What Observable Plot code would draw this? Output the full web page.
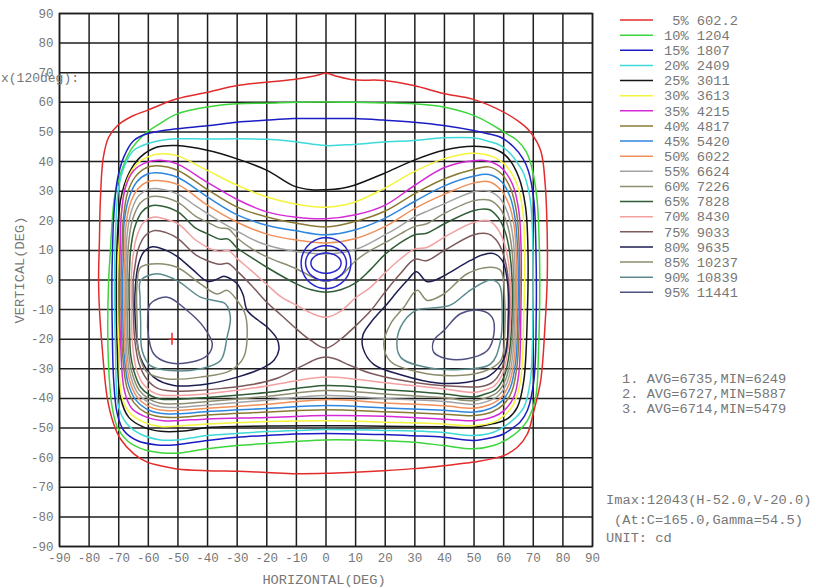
<!DOCTYPE html>
<html><head><meta charset="utf-8">
<script src="https://cdn.jsdelivr.net/npm/d3@7"></script>
<script src="https://cdn.jsdelivr.net/npm/@observablehq/plot@0.6"></script>
<style>body{margin:0;background:#fff;overflow:hidden}</style>
</head><body><div id="chart"></div>
<script>
// ---- data (degrees: [horizontal, vertical]) ----
const ticks = [-90,-80,-70,-60,-50,-40,-30,-20,-10,0,10,20,30,40,50,60,70,80,90];
const levels = [5,10,15,20,25,30,35,40,45,50,55,60,65,70,75,80,85,90,95];
const levelValues = ["602.2","1204","1807","2409","3011","3613","4215","4817","5420","6022","6624","7226","7828","8430","9033","9635","10237","10839","11441"];

const c05 = [[-76.8,0],[-76.5,14],[-76.2,27],[-75.2,41.4],[-73.4,48.2],[-70.4,52.2],[-65.5,55.3],[-60.4,57.3],[-50.3,61.2],[-40.1,63.4],[-30,65.7],[-20,66.8],[-11,67.7],[-4,68.9],[0,69.8],[3,69],[9.3,67.6],[19.4,67.4],[29.6,65.7],[39.7,63],[49.8,61],[60,56.7],[65.5,53.2],[69,50],[72.5,43.7],[74,32.5],[74.7,15.7],[74.7,0],[74,-14.7],[72.5,-34],[70,-45],[68,-52],[64.6,-56.5],[60,-59.3],[49.8,-61.5],[39.7,-62.7],[29.6,-63.7],[19.4,-64.4],[8,-65],[0,-65.3],[-10,-65.4],[-20,-65],[-30,-64.6],[-40.1,-64.4],[-50.3,-63.8],[-57,-62.5],[-60.4,-61.5],[-64.9,-58.7],[-69.4,-53.7],[-71.7,-48.6],[-73.9,-39.6],[-75.6,-22.7],[-76.5,-10]];
const c10 = [[-73.4,0],[-72.8,10],[-72.2,20],[-71.4,28],[-69.4,35.9],[-66,43.8],[-63,47.5],[-60.4,50],[-55,53.5],[-50.3,56.1],[-40.1,58.4],[-30,59.5],[-20,59.7],[-10,60],[0,60.1],[9.3,60],[19.4,59.8],[29.6,59.5],[39.7,58.4],[49.8,55.6],[56,52.5],[60,50],[64.6,47.1],[67.5,43.5],[69.5,38],[71.3,27],[71.9,15.6],[72.2,0],[71.8,-22.7],[70.8,-39.6],[68,-47.5],[65,-51],[62.3,-53.1],[56.6,-55.9],[49.8,-57],[39.7,-55.9],[29.6,-54.8],[19.4,-54.3],[0,-54],[-10,-54.5],[-20,-55.2],[-30,-55.9],[-40.1,-57],[-50.3,-58.5],[-55,-58.4],[-60.4,-57.6],[-64.5,-56],[-67.2,-54.2],[-70.5,-49.7],[-72.2,-43],[-73.2,-33],[-73.7,-18]];
const c15 = [[-72.3,0],[-72.1,10],[-71.7,21.2],[-70.5,33.6],[-68.3,41.5],[-64.9,47.1],[-60.4,49.4],[-50.3,51.1],[-40.1,52.1],[-30,53.3],[-20,54],[-11,54.5],[0,54.5],[9.3,54.5],[19.4,54],[29.6,53.3],[39.7,52.2],[49.8,50.5],[55,49.3],[59,48.2],[63.4,44.9],[66.5,41],[68.3,37],[70.2,26.9],[70.9,10],[71,-11.3],[70.2,-34],[68,-44.1],[65.5,-48],[63.4,-49.7],[60,-52],[56.6,-53.1],[49.8,-54.2],[39.7,-53.1],[29.6,-52.6],[19.4,-52.2],[0,-51.8],[-10.9,-52],[-20,-52.5],[-30,-53.1],[-40.1,-54.2],[-50.3,-55.6],[-57,-55.7],[-63.8,-54.2],[-68.3,-50.8],[-70.5,-45.2],[-71.7,-34],[-72.2,-15]];
const c20 = [[-71.4,0],[-71.1,15.6],[-70,31.4],[-67.7,39.3],[-64.9,43.8],[-60.4,46],[-55,47.3],[-50.3,47.7],[-40,47.6],[-30,47.7],[-20,47.5],[-11,46.8],[0,45.4],[9.3,45.8],[19.4,46.6],[29.6,47.1],[39.7,48],[49.8,48],[55,46.8],[59,45.4],[62.3,42.6],[65,39],[66.8,35.9],[69,26.9],[69.9,10],[69.9,-11.4],[69,-34],[66.8,-43],[62.3,-48],[56.6,-51.4],[49.8,-52.5],[39.7,-51.5],[29.6,-51],[19.4,-50.8],[0,-50.5],[-10,-50.8],[-20,-51.2],[-30,-51.8],[-40.1,-52.5],[-50.3,-54],[-55.9,-54],[-62.7,-52],[-67.2,-48.6],[-70,-43],[-71.1,-22.7]];
const c25 = [[-70.8,0],[-70.5,13.3],[-69.4,26.9],[-66.6,35.9],[-62.7,41.5],[-57,44.9],[-50.3,45.4],[-40.1,43.8],[-30,40.9],[-19.9,37],[-11,31.8],[-5,30.5],[0,30.5],[5,30.9],[9.3,31.9],[19.4,35.9],[29.6,40.4],[39.7,43.8],[49.8,45.2],[56.7,44.3],[61.2,41.5],[65.1,34.7],[67.4,24.6],[68.2,10],[68,-11.4],[66.8,-34],[64.6,-43],[61.2,-46.9],[56.6,-48.5],[49.8,-49.7],[39.7,-49.6],[20,-49.4],[0,-49.2],[-19.9,-49.3],[-40.1,-49.8],[-48,-51],[-55.9,-51.1],[-61.6,-49.7],[-66.6,-46.4],[-69.4,-39.6],[-70.5,-22.7]];
const c30 = [[-70.3,0],[-70,10],[-68.9,24.6],[-67.2,33.6],[-63.8,39.3],[-60.4,41.5],[-55.9,42.6],[-50.3,42],[-40.1,37],[-30,32],[-20,28],[-10,25.6],[0,24.6],[9.3,26.2],[19.4,30.8],[29.6,36.5],[39.7,40.9],[49.8,42.8],[56.7,41.5],[60.1,39.3],[64,33.6],[66.3,24.6],[67.1,10],[66.8,-11.4],[65.7,-34],[63.4,-41.8],[60.1,-45.8],[56.7,-48],[49.8,-49.2],[39.7,-48.6],[19.4,-48],[0,-47.5],[-19.9,-47.8],[-40.1,-48.6],[-55.9,-49.5],[-61.6,-48],[-66,-45.2],[-68.9,-39.6],[-70,-22.7]];
const c35 = [[-69.7,0],[-69.5,10],[-69.2,21.2],[-67.7,31.4],[-64.9,37],[-60.4,39.8],[-55.9,40.4],[-50.3,39.2],[-40.1,33],[-30,27.2],[-20,23],[-10,21.2],[0,20.7],[10,22],[20,25.3],[30,32],[40,38],[49.9,40.3],[54.5,40.2],[59,38.1],[62.9,32.5],[65.1,23.5],[65.9,10],[65.8,-11.4],[65.1,-31.7],[63.4,-39.6],[60.1,-44.1],[56.7,-46.1],[49.8,-47.5],[39.7,-47],[19.4,-46],[0,-45.8],[-19.9,-46.4],[-40.1,-46.9],[-50,-47.5],[-55,-47.5],[-60.4,-46.4],[-65.5,-43.5],[-68.1,-37.3],[-69.4,-20]];
const c40 = [[-69.2,0],[-68.9,10],[-68.5,20],[-67,29.5],[-64.3,35],[-60.5,38],[-57,38.6],[-50,37],[-40,30.5],[-30,24.6],[-20,21.3],[-10,19.2],[0,17.9],[10,19.8],[20,23.3],[30,29.2],[40,34.2],[50,37.4],[55,38.2],[59.3,35.8],[62.5,30.5],[64.4,22.5],[65.3,10],[65.3,-12],[64.5,-29],[62.8,-37.5],[60,-42],[56,-44.6],[50,-45.8],[40,-45.3],[20,-44.5],[0,-43.8],[-20,-44.6],[-40,-45.6],[-50,-46.4],[-56,-46.2],[-61,-44.7],[-64.8,-41.5],[-67.3,-36],[-68.7,-25],[-69.1,-12]];
const c45 = [[-68.7,0],[-68.4,9],[-68.2,19],[-66.6,27.5],[-64,33],[-60.5,35.7],[-57,36.2],[-50,34.6],[-40,28],[-30,22],[-20,18.5],[-10,16.6],[0,15.3],[10,17],[20,20.9],[30,26.6],[40,31.8],[50,35.1],[55,35.6],[59.3,33.2],[62.2,28],[63.9,20.5],[64.8,8],[64.8,-12],[64,-28],[62.2,-36.5],[59.3,-41],[55.5,-43.4],[50,-44.6],[40,-44],[20,-43.2],[0,-42.4],[-20,-43.4],[-40,-44.4],[-50,-45.2],[-56,-45],[-60.7,-43.5],[-64.4,-40.3],[-66.8,-35],[-68.2,-25],[-68.6,-12]];
const c50 = [[-68.2,0],[-67.9,8],[-67.7,17],[-66.2,25.5],[-63.5,30.8],[-60.3,33.2],[-57,33.6],[-50,32.2],[-40,25.2],[-30,19.5],[-20,15.5],[-10,13.5],[0,12.5],[10,14],[20,18.1],[30,24.2],[40,29],[50,32.8],[55,33.2],[59,30.5],[61.8,25.5],[63.5,18.5],[64.3,7],[64.3,-12],[63.5,-27],[61.7,-35.5],[58.8,-40],[55,-42.2],[50,-43.3],[40,-42.5],[20,-41.5],[0,-40.4],[-20,-42],[-40,-43.3],[-50,-44.1],[-56,-43.9],[-60.4,-42.4],[-64,-39.2],[-66.3,-34],[-67.7,-25],[-68.1,-12]];
const c55 = [[-67.7,0],[-67.5,7],[-67.2,15],[-65.8,23],[-63.2,28.5],[-60,30.6],[-56.5,30.8],[-50,29],[-44,25],[-40,22.4],[-35,19.3],[-30,16.5],[-25,13.8],[-20,11.8],[-10,9.6],[0,8.8],[10,10.3],[20,15.3],[25,18.2],[30,21.4],[35,23.6],[40,25.8],[50,29.8],[55,30],[58.8,27.5],[61.4,22.5],[63,15.5],[63.8,5],[63.8,-12],[63,-26],[61.2,-34.5],[58.3,-39],[54.5,-41],[50,-42],[40,-41],[20,-40],[0,-39],[-20,-40.6],[-40,-42.2],[-50,-43],[-56,-42.8],[-60,-41.3],[-63.6,-38.2],[-65.8,-33],[-67.2,-25],[-67.6,-12]];
const c60 = [[-67.2,0],[-67,6],[-66.6,13],[-65.3,20.5],[-62.7,26],[-59.7,28],[-56.5,28.2],[-50,26.2],[-44,21.5],[-40,19.5],[-36,17.6],[-33,17.3],[-30,14.2],[-25,10.5],[-20,7.8],[-10,3.8],[-5,1.2],[0,-0.5],[5,1.5],[10,6.5],[15,10],[20,12.6],[25,15.5],[30,18.1],[34,19],[40,22.5],[50,26.8],[55,27],[58.5,24.5],[61,19.5],[62.5,12.5],[63.3,3],[63.3,-12],[62.5,-25],[60.7,-33.5],[57.8,-38],[54,-39.8],[50,-40.8],[40,-39.8],[20,-38.5],[0,-37.3],[-20,-39.3],[-40,-41],[-50,-41.8],[-56,-41.6],[-59.7,-40.2],[-63.1,-37.2],[-65.3,-32],[-66.6,-25],[-67.1,-12]];
const c65 = [[-66.5,0],[-66.3,5],[-66,10],[-64.7,17.5],[-62.2,23],[-59.3,25],[-56,25.1],[-50,23],[-44,17.5],[-40,15.6],[-36,13.8],[-33,13.8],[-30,10.8],[-25,7.5],[-20,4.3],[-10,-1.3],[-5,-3.3],[0,-4.1],[5,-3.3],[10,-1],[15,3.5],[20,8.7],[25,12.5],[30,15.3],[34,15.8],[40,19],[50,23.5],[55,23.8],[58.2,21],[60.6,16],[62,9.5],[62.8,1],[62.8,-12],[62,-24],[60.2,-32.5],[57.3,-37],[53.5,-38.6],[50,-39.5],[40,-38.5],[20,-37],[0,-35.6],[-20,-38],[-40,-39.7],[-50,-40.3],[-56,-40.2],[-59.3,-39],[-62.6,-36.2],[-64.8,-31],[-66,-25],[-66.4,-12]];
const c70 = [[-65.8,0],[-65.6,3.5],[-65.3,7],[-64.1,14],[-61.6,19.5],[-58.5,21.2],[-55,20.8],[-50,19],[-44,13.5],[-40,11],[-36,9.6],[-33,10],[-30,7.2],[-25,3],[-20,-1.5],[-15,-5.8],[-10,-8.5],[-5,-11.2],[0,-12.6],[5,-10.5],[10,-6],[15,-2.5],[20,2.5],[25,7],[30,10.5],[34,11],[40,14.5],[50,19.5],[55,20],[57.8,17.5],[60.2,12.5],[61.6,6],[62.3,-2],[62.3,-13],[61.5,-23],[59.7,-31.5],[56.8,-35.8],[53,-37.3],[50,-38],[40,-36.8],[30,-35.7],[20,-34.7],[10,-33.5],[0,-32.8],[-10,-34],[-20,-35.8],[-30,-37.2],[-40,-38.4],[-50,-39],[-56,-38.8],[-59,-37.6],[-62,-34.8],[-64.2,-29.5],[-65.3,-22],[-65.7,-10]];
const c75 = [[-65.1,0],[-64.9,2],[-64.6,4],[-63.4,10.5],[-61,15],[-57.8,16.7],[-54,16],[-50,14],[-44,8.5],[-40,6.5],[-36,5.3],[-33,5.6],[-30,3],[-25,-2],[-20,-7.5],[-15,-12],[-10,-16.5],[-5,-20.5],[0,-23],[5,-20],[10,-15.5],[15,-10.5],[20,-4],[25,2],[30,7],[34,6.5],[40,10],[50,15.3],[55,15.5],[57.5,13.5],[59.8,9],[61.2,3],[61.9,-5],[61.8,-14],[61,-22],[59.2,-30.5],[56.3,-34.5],[52.5,-36],[45,-36],[35,-35.3],[25,-33.8],[15,-31.5],[8,-28.8],[3,-26.6],[0,-26],[-3,-26.6],[-8,-29],[-16,-33],[-25,-35.3],[-35,-36.6],[-45,-37.4],[-52,-37.5],[-57,-36.5],[-60.5,-33.5],[-63.2,-28],[-64.6,-20],[-65.1,-8]];
const c80L = [[-64.4,-2.4],[-63.4,5],[-61.6,9.4],[-58.5,11.2],[-54,10],[-50.3,8],[-45,3.5],[-40,-0.5],[-37,0.2],[-34.5,1.3],[-32,0.3],[-30,-1.3],[-28,-5],[-26.6,-10.3],[-23,-13.5],[-19.9,-15.9],[-16.5,-20],[-15.9,-23.5],[-17.5,-27],[-21,-29.5],[-30,-32.8],[-40.1,-35.1],[-51.4,-35.6],[-58.2,-32.8],[-62.7,-26.1],[-64.4,-13.7]];
const c80R = [[20.7,-8],[24,-4],[27.4,-0.2],[30.5,2.8],[34,-0.5],[37,0],[40,1.5],[48.8,6.6],[53,8.5],[56.7,8.9],[59.5,6.6],[61.2,0],[61.5,-13.7],[60.3,-26.1],[55,-32.5],[47.7,-34.5],[37.6,-34.8],[25.2,-32],[16.1,-28.5],[12.5,-23],[12.5,-18.5],[15,-14.5]];
const c85L = [[-63.8,-1.3],[-62.6,4.3],[-57,5.5],[-50.3,4.3],[-42.4,-1.3],[-36.8,-4.7],[-33.4,-3.5],[-30,-6.9],[-27.5,-11],[-26.6,-17.1],[-27.8,-26.1],[-32.3,-30.6],[-42.4,-32.8],[-53.6,-33.4],[-60.4,-31.1],[-63.2,-24.9],[-63.8,-13.7]];
const c85R = [[26.3,-9.2],[30.8,-3.5],[34.2,-6.9],[39.8,-4.7],[47.7,2.1],[55.6,4.3],[59,3.2],[60.3,-5.8],[60.4,-17.1],[59,-27.2],[53,-31],[43.2,-32.3],[30.8,-31],[21.8,-27.5],[19.5,-21.6],[21.8,-14.8]];
const c90L = [[-62.8,-5.8],[-62.6,-0.2],[-57,2.1],[-50.3,-0.2],[-42.4,-5.8],[-37.9,-6.9],[-34,-8],[-32.3,-12.6],[-33.4,-19.3],[-35.6,-27.2],[-42.4,-30],[-52.5,-30.6],[-59.3,-28.9],[-62.1,-23.8],[-62.6,-13.7]];
const c90R = [[27.4,-12.6],[31,-10],[35,-9.5],[42,-8.5],[48.8,-3.4],[55.6,0],[58.5,-1.5],[59.5,-10.3],[58.7,-21.6],[55.6,-28.3],[45.4,-30.2],[33,-29.3],[25.2,-26.1],[24.1,-19.3]];
const c95L = [[-60.2,-12.6],[-59.3,-8],[-53.6,-5.8],[-46.9,-10.3],[-41.3,-15.9],[-38.4,-21.6],[-40.1,-25.5],[-45.8,-27.8],[-53.6,-27.8],[-58.2,-24.9],[-59.9,-19.3]];
const c95R = [[39.8,-17.1],[45.4,-11.4],[52.2,-10.3],[56.1,-12.6],[56.7,-18.2],[54.5,-23.8],[47.7,-26.6],[40.9,-26.6],[36.4,-24.4],[36.4,-20.4]];

// evaluation zones (centre and radii, degrees)
const zoneCenter = [0, 5.7];
const zoneRadiusH = [8.4, 6.9, 5.1];
const zoneRadiusV = [8.6, 5.9, 3.4];
const zoneAvg = [6735, 6727, 6714];
const zoneMin = [6249, 5887, 5479];

// peak intensity
const imaxValue = 12043, imaxH = -52.0, imaxV = -20.0, atC = 165.0, atGamma = 54.5;

// ---- styles ----
const levelColors = ["#e42b2b","#3cd63c","#1c1cc4","#3ed9d9","#151515","#f4f43c","#d62ad6","#8a7a33","#2e86de","#f0905a","#a2a2a2","#8e8e72","#2f5d35","#f2a0a0","#7e5a5c","#1e1e52","#8d8d6e","#5c8a8c","#4f4f80"];
const contourSets = [[c05],[c10],[c15],[c20],[c25],[c30],[c35],[c40],[c45],[c50],[c55],[c60],[c65],[c70],[c75],[c80L,c80R],[c85L,c85R],[c90L,c90R],[c95L,c95R]];

const contourMarks = contourSets.flatMap((loops, i) => loops.map(loop =>
  Plot.line(loop, {x: d => d[0], y: d => d[1], stroke: levelColors[i], strokeWidth: 1.5, curve: "catmull-rom-closed"})));

const zoneMarks = zoneRadiusH.map((rh, i) => {
  const pts = d3.range(0, 360, 6).map(a => [zoneCenter[0] + rh * Math.cos(a * Math.PI / 180), zoneCenter[1] + zoneRadiusV[i] * Math.sin(a * Math.PI / 180)]);
  return Plot.line(pts, {x: d => d[0], y: d => d[1], stroke: "#2626cc", strokeWidth: 1.5, curve: "catmull-rom-closed"});
});

const plot = Plot.plot({
  width: 816, height: 588,
  marginLeft: 59, marginRight: 224, marginTop: 13, marginBottom: 42,
  x: {domain: [-90, 90]},
  y: {domain: [-90, 90]},
  style: {fontFamily: "'Liberation Mono', monospace", fontSize: "12.5px", color: "#777", background: "#fff"},
  marks: [
    Plot.gridX(ticks, {stroke: "#1e1e1e", strokeOpacity: 1, strokeWidth: 1.5}),
    Plot.gridY(ticks, {stroke: "#1e1e1e", strokeOpacity: 1, strokeWidth: 1.5}),
    Plot.axisX(ticks, {tickSize: 0, tickPadding: 7, label: null, tickFormat: d => String(d)}),
    Plot.axisY(ticks, {tickSize: 0, tickPadding: 6, label: null, tickFormat: d => String(d)}),
    ...contourMarks,
    ...zoneMarks,
    Plot.ruleX([imaxH], {y1: imaxV - 2, y2: imaxV + 2, stroke: "#e42b2b", strokeWidth: 1.5}),
    Plot.ruleY([imaxV], {x1: imaxH - 1, x2: imaxH + 1, stroke: "#e42b2b", strokeWidth: 1.5}),
    Plot.frame({stroke: "#1e1e1e", strokeWidth: 1.5})
  ]
});

document.getElementById("chart").appendChild(plot);

// ---- annotations, legend ----
const svg = d3.select(plot);
const txt = svg.append("g")
  .attr("font-family", "'Liberation Mono', monospace")
  .attr("font-size", "13.7px")
  .attr("fill", "#777")
  .attr("text-anchor", "start")
  .style("white-space", "pre");

txt.append("text").attr("x", 19).attr("y", 270).attr("text-anchor", "middle").attr("dy", "0.35em")
  .attr("transform", "rotate(-90,19,270)").text("VERTICAL(DEG)");
txt.append("text").attr("x", 324).attr("y", 579).attr("text-anchor", "middle").attr("dy", "0.35em")
  .text("HORIZONTAL(DEG)");
txt.append("text").attr("x", 1).attr("y", 77).attr("dy", "0.35em")
  .attr("font-size", "13px").text("x(120deg):");

const leg = svg.append("g");
levels.forEach((lv, i) => {
  const y = 20 + i * 15.13;
  leg.append("line").attr("x1", 620).attr("x2", 653).attr("y1", y).attr("y2", y)
    .attr("stroke", levelColors[i]).attr("stroke-width", 1.5);
  txt.append("text").attr("x", 664).attr("y", y).attr("dy", "0.35em")
    .text(String(lv).padStart(2, " ") + "% " + levelValues[i]);
});

zoneAvg.forEach((a, i) => {
  txt.append("text").attr("x", 622).attr("y", 378 + i * 15).attr("dy", "0.35em")
    .text(`${i + 1}. AVG=${a},MIN=${zoneMin[i]}`);
});
txt.append("text").attr("x", 606).attr("y", 499).attr("dy", "0.35em")
  .text(`Imax:${imaxValue}(H${imaxH.toFixed(1)},V${imaxV.toFixed(1)})`);
txt.append("text").attr("x", 614).attr("y", 519).attr("dy", "0.35em")
  .text(`(At:C=${atC.toFixed(1)},Gamma=${atGamma.toFixed(1)})`);
txt.append("text").attr("x", 606).attr("y", 537).attr("dy", "0.35em").text("UNIT: cd");
</script></body></html>
